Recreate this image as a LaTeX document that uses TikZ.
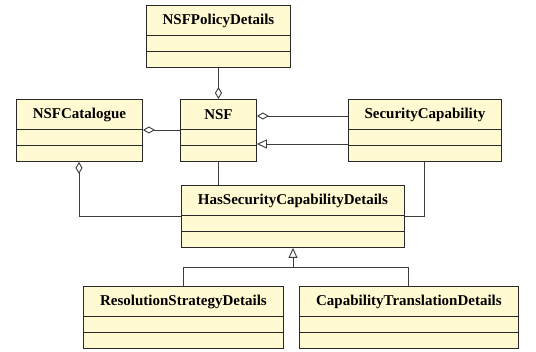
\documentclass[tikz,border=0pt]{standalone}
\usepackage{fontspec}
\newfontfamily\clsfont{Liberation Serif}[BoldFont={Liberation Serif Bold}]
\usetikzlibrary{arrows.meta,calc}
\definecolor{clsfill}{RGB}{255,250,210}
\definecolor{clsline}{RGB}{40,40,40}
\definecolor{conn}{RGB}{60,60,60}
\tikzset{
  cls/.style={draw=clsline, line width=0.9pt, fill=clsfill, rectangle, inner sep=0pt, anchor=north west, minimum height=62pt},
  ttl/.style={font=\clsfont\bfseries\fontsize{15}{17}\selectfont, inner sep=0pt, anchor=center},
  sep/.style={draw=clsline, line width=0.9pt},
  conline/.style={draw=conn, line width=0.9pt},
  agg/.style={conline, {Diamond[open,length=12pt,width=7pt,line width=0.9pt]}-},
  gen/.style={conline, {Triangle[open,length=10pt,width=9pt,line width=0.9pt]}-},
}
\newcommand{\umlclass}[5]{% name, x, y, width, title
  \node[cls, minimum width=#4pt] (#1) at (#2,#3) {};
  \node[ttl] (#1t) at ($(#1.north)+(0,-16pt)$) {#5};
  \draw[sep] ([yshift=-30pt]#1.north west) -- ([yshift=-30pt]#1.north east);
  \draw[sep] ([yshift=-46pt]#1.north west) -- ([yshift=-46pt]#1.north east);
}
\begin{document}
\begin{tikzpicture}[x=1pt,y=-1pt]
\useasboundingbox (0,0) rectangle (536,352);
\umlclass{pol}{146}{5}{144}{NSFPolicyDetails}
\umlclass{cat}{16}{99}{126}{NSFCatalogue}
\umlclass{nsf}{180}{99}{76}{NSF}
\umlclass{sec}{348}{99}{153}{SecurityCapability}
\umlclass{has}{181}{185}{223}{HasSecurityCapabilityDetails}
\umlclass{res}{83}{286}{200}{ResolutionStrategyDetails}
\umlclass{cap}{299}{286}{219}{CapabilityTranslationDetails}
% coordinates
\coordinate (c1) at ($(cat.south west)+(63pt,0)$);
\coordinate (c1b) at (c1 |- 0,216);
\coordinate (s1) at ($(sec.south west)+(76pt,0)$);
\coordinate (s1b) at (s1 |- 0,216);
\coordinate (hj) at (293,267);
\coordinate (rj) at (183,267);
\coordinate (cj) at (408,267);
% connectors
\draw[agg] (nsf.north) -- (pol.south -| nsf.north);
\draw[agg] (cat.east |- 0,130) -- (nsf.west |- 0,130);
\draw[agg] (nsf.east |- 0,116) -- (sec.west |- 0,116);
\draw[gen] (nsf.east |- 0,144) -- (sec.west |- 0,144);
\draw[conline] (nsf.south) -- (has.north -| nsf.south);
\draw[agg] (c1) -- (c1b) -- (has.west |- c1b);
\draw[conline] (s1) -- (s1b) -- (has.east |- s1b);
\draw[gen] (has.south -| hj) -- (hj);
\draw[conline] (res.north -| rj) -- (rj) -- (cj) -- (cap.north -| cj);
\end{tikzpicture}
\end{document}
